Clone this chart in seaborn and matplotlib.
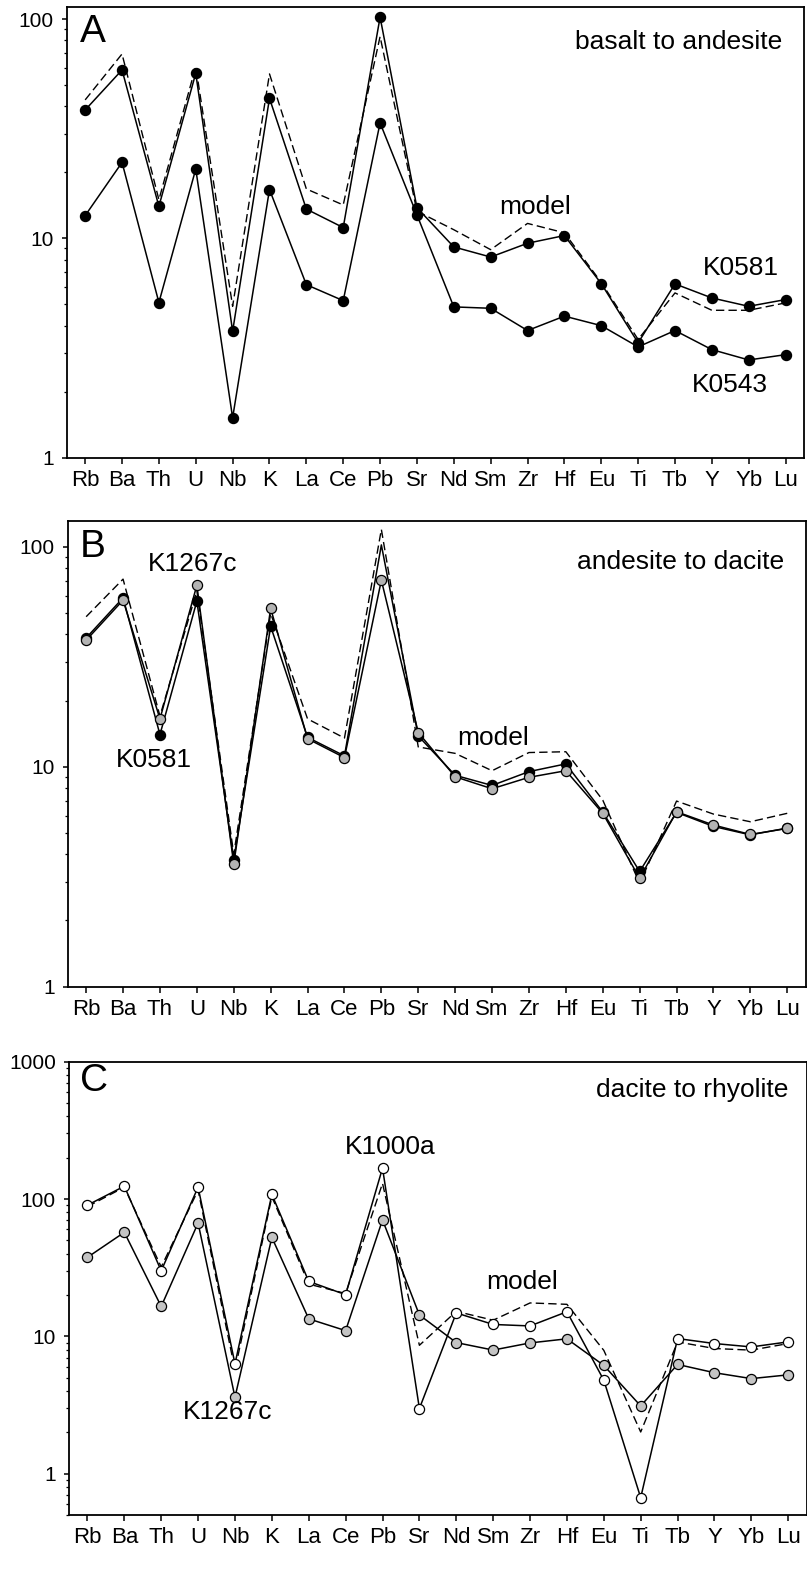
import numpy as np
import pandas as pd
import matplotlib
matplotlib.use("Agg")
import matplotlib.pyplot as plt
import matplotlib.ticker as mticker
import seaborn as sns

# Trace elements, primitive-mantle normalised
elements = ["Rb", "Ba", "Th", "U", "Nb", "K", "La", "Ce", "Pb", "Sr",
            "Nd", "Sm", "Zr", "Hf", "Eu", "Ti", "Tb", "Y", "Yb", "Lu"]

k0543 = [12.7, 22.2, 5.1, 20.7, 1.52, 16.7, 6.15, 5.2, 33.6, 12.8,
         4.87, 4.80, 3.80, 4.42, 4.0, 3.2, 3.80, 3.11, 2.79, 2.95]
k0581 = [38.5, 58.6, 14.0, 56.6, 3.77, 43.5, 13.6, 11.2, 102, 13.8,
         9.14, 8.22, 9.5, 10.3, 6.22, 3.34, 6.2, 5.35, 4.9, 5.26]
k1267c = [37.6, 57.2, 16.5, 66.9, 3.6, 52.5, 13.4, 11.0, 70.5, 14.3,
          9.0, 7.94, 8.95, 9.59, 6.14, 3.11, 6.24, 5.43, 4.92, 5.24]
k1000a = [90.2, 124, 30.0, 122, 6.3, 108, 25.1, 20.1, 168, 2.98,
          14.8, 12.2, 11.9, 15.1, 4.79, 0.668, 9.63, 8.86, 8.37, 9.11]

model_a = [42.8, 69.3, 15.0, 60.7, 4.9, 56.2, 16.8, 14.2, 83.2, 13.3,
           10.95, 8.88, 11.7, 10.6, 6.3, 3.46, 5.64, 4.70, 4.70, 5.08]
model_b = [48.1, 71.3, 17.0, 63.0, 4.0, 49.8, 16.5, 13.5, 120, 12.3,
           11.5, 9.59, 11.6, 11.7, 7.05, 2.95, 6.98, 6.09, 5.62, 6.14]
model_c = [88, 122, 32, 116, 5.7, 104, 24, 20.5, 130, 8.6,
           15.2, 13.1, 17.5, 17.1, 7.9, 2.01, 9.1, 8.15, 7.93, 8.86]

sns.set_style("ticks")
plt.rcParams["font.family"] = ["Liberation Sans", "DejaVu Sans"]
plt.rcParams.update({
    "axes.linewidth": 1.3,
    "axes.edgecolor": "black",
    "text.color": "black",
    "xtick.color": "black",
    "ytick.color": "black",
    "xtick.labelcolor": "black",
    "ytick.labelcolor": "black",
})

fig = plt.figure(figsize=(8.07, 15.87), dpi=100)

all_pts = list(range(len(elements)))
no_pb = [i for i in all_pts if elements[i] != "Pb"]

panels = [
    dict(rect=[0.0827, 0.7116, 0.9136, 0.2840], ylim=(1, 113.5), majors=[1, 10, 100],
         letter="A", title="basalt to andesite", title_pos=(0.970, 0.922), letter_pos=(0.018, 0.944),
         series=[("model", model_a, "dash", None, None),
                 ("K0543", k0543, "solid", "black", all_pts),
                 ("K0581", k0581, "solid", "black", all_pts)],
         notes=[("model", 11.23, 13.9), ("K0581", 16.76, 7.34), ("K0543", 16.46, 2.15)]),
    dict(rect=[0.0839, 0.3783, 0.9145, 0.2934], ylim=(1, 131), majors=[1, 10, 100],
         letter="B", title="andesite to dacite", title_pos=(0.9706, 0.912), letter_pos=(0.0167, 0.944),
         series=[("model", model_b, "dash", None, None),
                 ("K0581", k0581, "solid", "black", no_pb),
                 ("K1267c", k1267c, "solid", "#b3b3b3", all_pts)],
         notes=[("K1267c", 1.68, 83.5), ("K0581", 0.81, 10.7), ("model", 10.05, 13.5)]),
    dict(rect=[0.0855, 0.0454, 0.9141, 0.2856], ylim=(0.5, 1000), majors=[1, 10, 100, 1000],
         letter="C", title="dacite to rhyolite", title_pos=(0.9747, 0.9376), letter_pos=(0.0149, 0.957),
         series=[("model", model_c, "dash", None, None),
                 ("K1267c", k1267c, "solid", "#c4c4c4", all_pts),
                 ("K1000a", k1000a, "solid", "white", all_pts)],
         notes=[("K1000a", 6.98, 239), ("model", 10.81, 24.9), ("K1267c", 2.59, 2.82)]),
]

xpos = np.arange(len(elements))

for p in panels:
    ax = fig.add_axes(p["rect"])
    for name, vals, style, face, shown in p["series"]:
        df = pd.DataFrame({"pos": xpos, "value": vals})
        if style == "dash":
            sns.lineplot(data=df, x="pos", y="value", ax=ax, color="black",
                         linewidth=1.0, linestyle=(0, (6, 3)), sort=False)
        else:
            sns.lineplot(data=df, x="pos", y="value", ax=ax, color="black",
                         linewidth=1.1, marker="o", markersize=7.3,
                         markerfacecolor=face, markeredgecolor="black",
                         markeredgewidth=0.9, markevery=shown, sort=False)
    ax.set_yscale("log")
    ax.set_ylim(*p["ylim"])
    ax.set_xlim(-0.5, len(elements) - 0.5)
    ax.set_xticks(xpos)
    ax.set_xticklabels(elements)
    ax.yaxis.set_major_locator(mticker.FixedLocator(p["majors"]))
    ax.yaxis.set_major_formatter(mticker.FuncFormatter(lambda v, _: f"{v:g}"))
    ax.yaxis.set_minor_locator(mticker.LogLocator(base=10, subs=np.arange(2, 10)))
    ax.yaxis.set_minor_formatter(mticker.NullFormatter())
    ax.set_xlabel("")
    ax.set_ylabel("")
    ax.tick_params(axis="x", direction="out", length=4, width=1.1, labelsize=16, pad=5,
                   colors="black")
    ax.tick_params(axis="y", which="major", direction="out", length=3.5, width=1.1,
                   labelsize=15, pad=6, colors="black")
    ax.tick_params(axis="y", which="minor", direction="out", length=2.3, width=0.9,
                   colors="black")
    for s in ax.spines.values():
        s.set_visible(True)
        s.set_linewidth(1.3)
        s.set_color("black")

    ax.text(*p["letter_pos"], p["letter"], transform=ax.transAxes, fontsize=28,
            ha="left", va="center", color="black")
    ax.text(*p["title_pos"], p["title"], transform=ax.transAxes, fontsize=19,
            ha="right", va="center", color="black")
    for label, x, y in p["notes"]:
        ax.text(x, y, label, fontsize=19, ha="left", va="center", color="black")

fig.savefig("out.png", dpi=100)
